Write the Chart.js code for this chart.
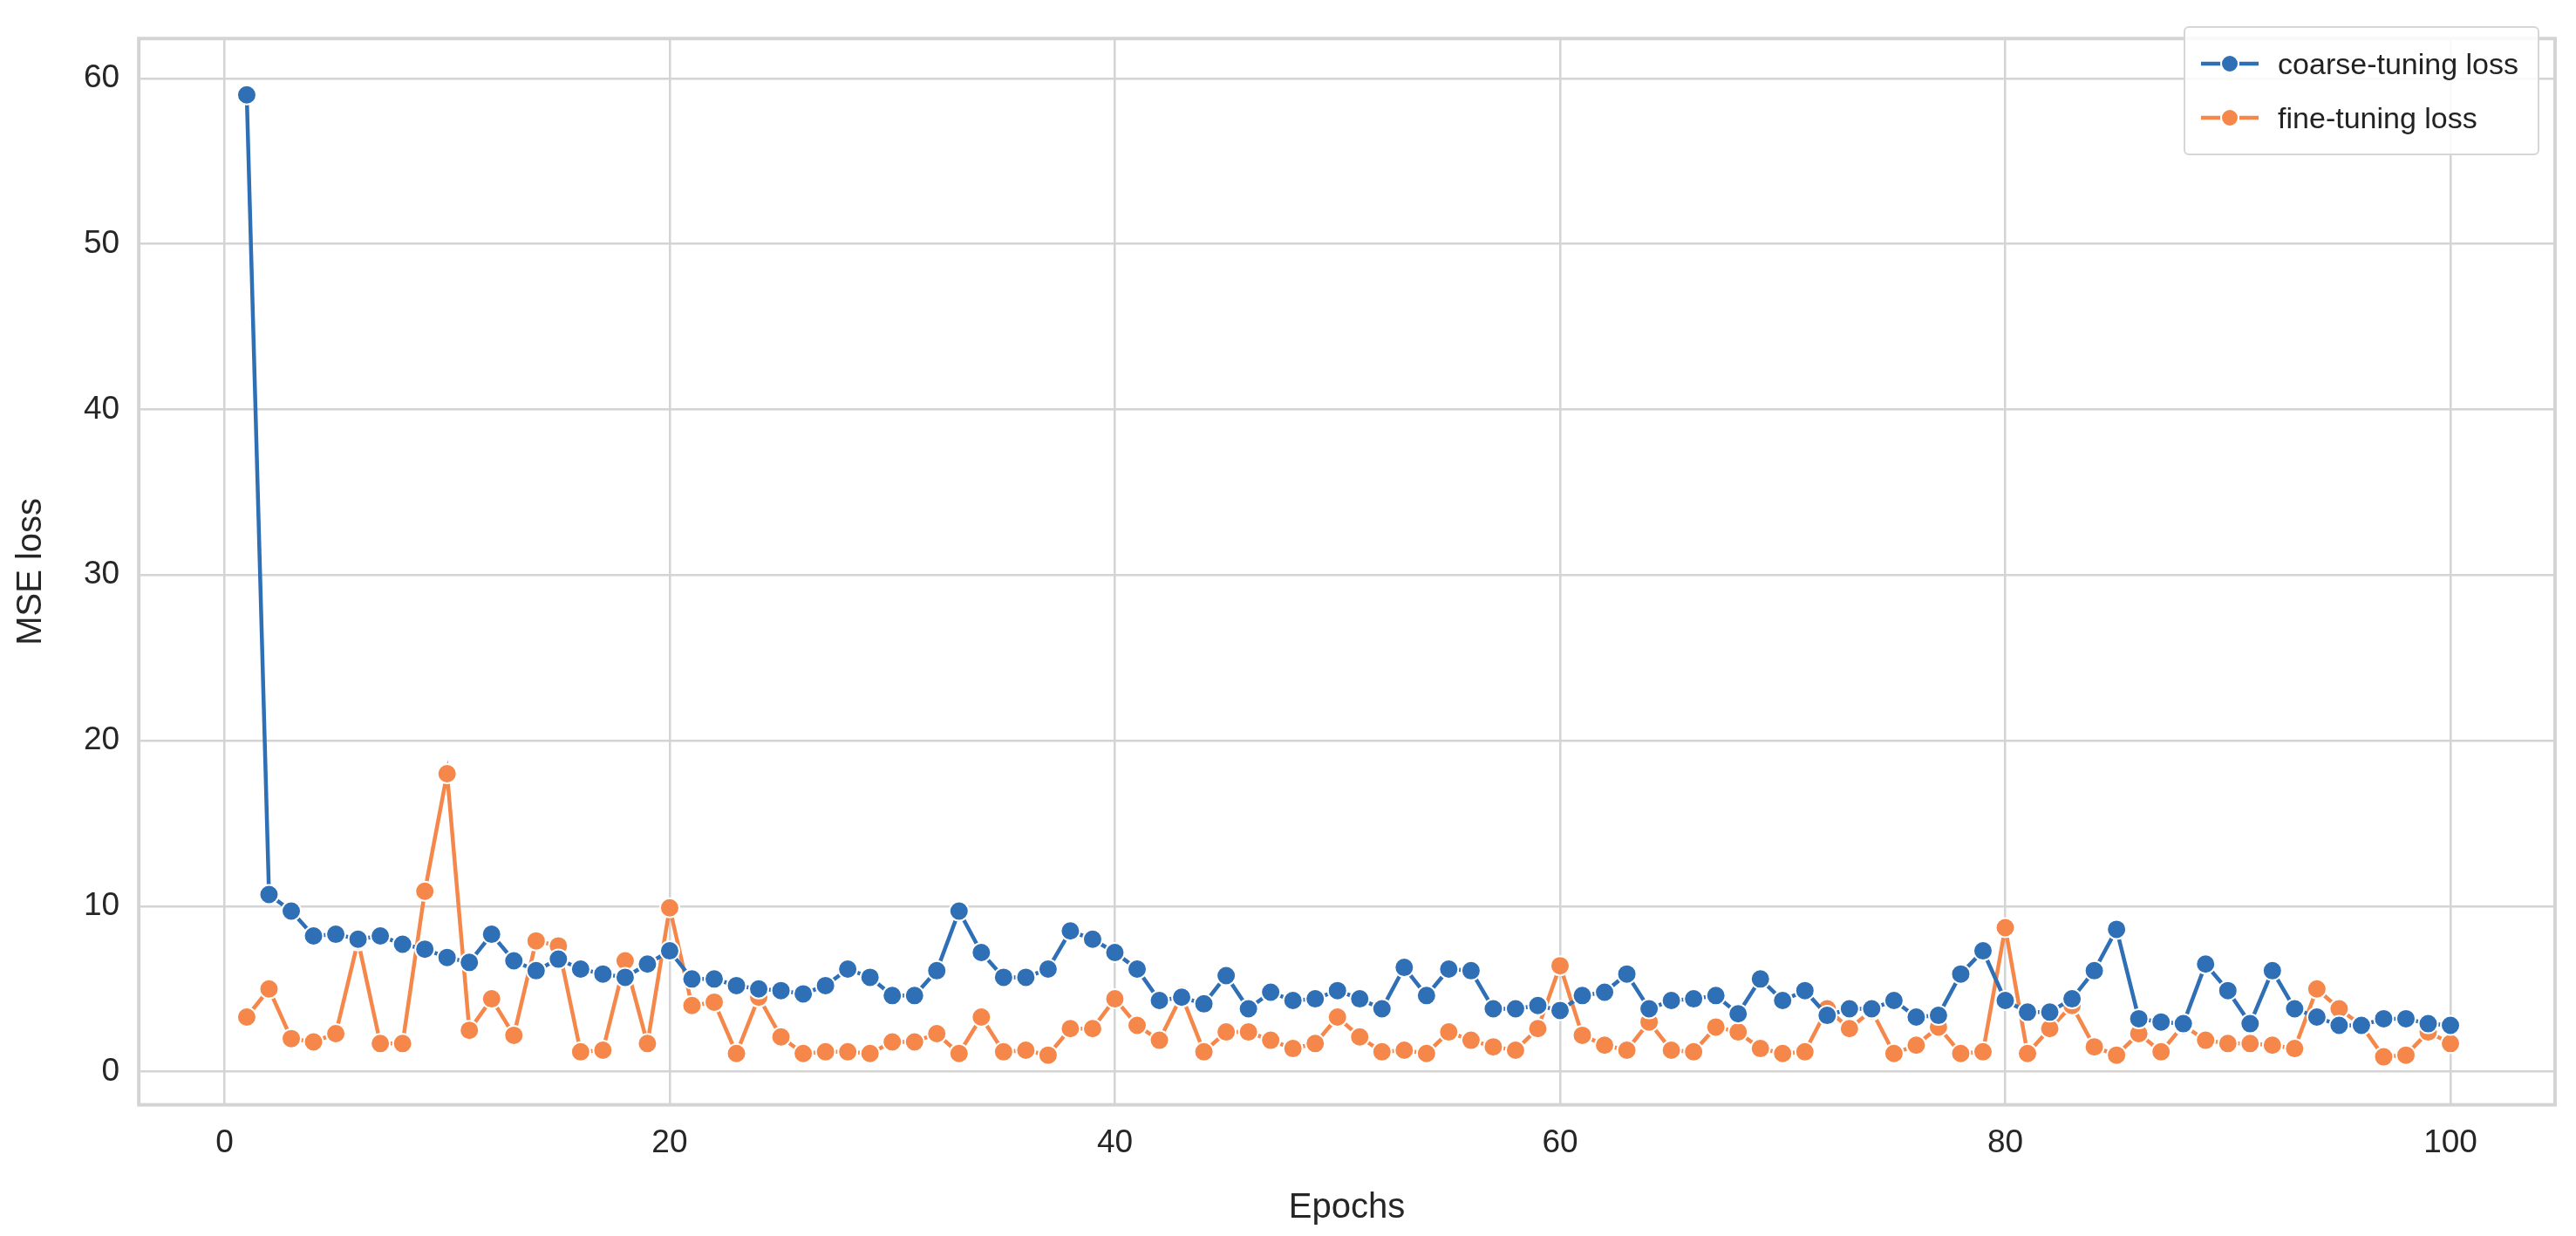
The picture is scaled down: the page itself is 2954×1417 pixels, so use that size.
<html>
<head>
<script src="https://cdn.jsdelivr.net/npm/chart.js@4.4.0/dist/chart.umd.min.js"></script>
<style>
  body { margin: 0; background: #fff; font-family: Arial, "Liberation Sans", sans-serif; }
  #wrap { position: relative; width: 2954px; height: 1417px; }
  #legend { position: absolute; right: 42px; top: 30px; background: rgba(255,255,255,0.85);
            border: 2px solid #d6d6d6; border-radius: 6px; padding: 10px 22px 10px 16px;
            font-size: 34px; color: #222; }
  #legend div { display: flex; align-items: center; height: 62px; }
  #legend svg { margin-right: 20px; }
</style>
</head>
<body>
<div id="wrap">
  <canvas id="loss-chart" width="2954" height="1417"></canvas>
  <div id="legend"></div>
</div>
<script>
const epochs = Array.from({length: 100}, (_, i) => i + 1);
const coarseLoss = [
  59.0, 10.7, 9.7, 8.2, 8.3, 8.0, 8.2, 7.7, 7.4, 6.9,
  6.6, 8.3, 6.7, 6.1, 6.8, 6.2, 5.9, 5.7, 6.5, 7.3,
  5.6, 5.6, 5.2, 5.0, 4.9, 4.7, 5.2, 6.2, 5.7, 4.6,
  4.6, 6.1, 9.7, 7.2, 5.7, 5.7, 6.2, 8.5, 8.0, 7.2,
  6.2, 4.3, 4.5, 4.1, 5.8, 3.8, 4.8, 4.3, 4.4, 4.9,
  4.4, 3.8, 6.3, 4.6, 6.2, 6.1, 3.8, 3.8, 4.0, 3.7,
  4.6, 4.8, 5.9, 3.8, 4.3, 4.4, 4.6, 3.5, 5.6, 4.3,
  4.9, 3.4, 3.8, 3.8, 4.3, 3.3, 3.4, 5.9, 7.3, 4.3,
  3.6, 3.6, 4.4, 6.1, 8.6, 3.2, 3.0, 2.9, 6.5, 4.9,
  2.9, 6.1, 3.8, 3.3, 2.8, 2.8, 3.2, 3.2, 2.9, 2.8
];
const fineLoss = [
  3.3, 5.0, 2.0, 1.8, 2.3, 7.9, 1.7, 1.7, 10.9, 18.0,
  2.5, 4.4, 2.2, 7.9, 7.6, 1.2, 1.3, 6.7, 1.7, 9.9,
  4.0, 4.2, 1.1, 4.5, 2.1, 1.1, 1.2, 1.2, 1.1, 1.8,
  1.8, 2.3, 1.1, 3.3, 1.2, 1.3, 1.0, 2.6, 2.6, 4.4,
  2.8, 1.9, 4.6, 1.2, 2.4, 2.4, 1.9, 1.4, 1.7, 3.3,
  2.1, 1.2, 1.3, 1.1, 2.4, 1.9, 1.5, 1.3, 2.6, 6.4,
  2.2, 1.6, 1.3, 3.0, 1.3, 1.2, 2.7, 2.4, 1.4, 1.1,
  1.2, 3.8, 2.6, 3.7, 1.1, 1.6, 2.7, 1.1, 1.2, 8.7,
  1.1, 2.6, 4.0, 1.5, 1.0, 2.3, 1.2, 2.8, 1.9, 1.7,
  1.7, 1.6, 1.4, 5.0, 3.8, 2.8, 0.9, 1.0, 2.4, 1.7
];
const xTicks = [0, 20, 40, 60, 80, 100];
const yTicks = [0, 10, 20, 30, 40, 50, 60];
const seriesNames = ['coarse-tuning loss', 'fine-tuning loss'];
const seriesColors = ['#2f6fb6', '#f5874a'];

// frame around the whole plot area (seaborn whitegrid style)
const framePlugin = {
  id: 'frame',
  afterDraw(chart) {
    const {ctx, chartArea: a} = chart;
    ctx.save();
    ctx.strokeStyle = '#d4d4d4';
    ctx.lineWidth = 4;
    ctx.strokeRect(a.left, a.top, a.right - a.left, a.bottom - a.top);
    ctx.restore();
  }
};

const tickFont = {family: 'Arial, "Liberation Sans", sans-serif', size: 37};
const titleFont = {family: 'Arial, "Liberation Sans", sans-serif', size: 40};

new Chart(document.getElementById('loss-chart'), {
  type: 'line',
  data: {
    datasets: [coarseLoss, fineLoss].map((vals, i) => ({
      label: seriesNames[i],
      data: epochs.map((e, j) => ({x: e, y: vals[j]})),
      borderColor: seriesColors[i],
      backgroundColor: seriesColors[i],
      borderWidth: 4.5,
      pointRadius: 11,
      pointBorderColor: '#ffffff',
      pointBorderWidth: 2,
      tension: 0
    }))
  },
  options: {
    responsive: false,
    animation: false,
    devicePixelRatio: 1,
    layout: {padding: {left: 8, right: 24, top: 20, bottom: 4}},
    plugins: {legend: {display: false}, tooltip: {enabled: false}},
    scales: {
      x: {
        type: 'linear', min: -3.85, max: 104.7,
        afterBuildTicks: s => { s.ticks = xTicks.map(v => ({value: v})); },
        grid: {color: '#d4d4d4', lineWidth: 2.5, drawTicks: false},
        border: {display: false},
        ticks: {font: tickFont, color: '#262626', padding: 22},
        title: {display: true, text: 'Epochs', font: titleFont, color: '#262626', padding: {top: 6}}
      },
      y: {
        min: -2.0, max: 62.4,
        afterBuildTicks: s => { s.ticks = yTicks.map(v => ({value: v})); },
        grid: {color: '#d4d4d4', lineWidth: 2.5, drawTicks: false},
        border: {display: false},
        ticks: {font: tickFont, color: '#262626', padding: 22},
        title: {display: true, text: 'MSE loss', font: titleFont, color: '#262626', padding: {bottom: 14}}
      }
    }
  },
  plugins: [framePlugin]
});

// legend with line+marker icons
const legend = document.getElementById('legend');
seriesNames.forEach((name, i) => {
  const row = document.createElement('div');
  row.innerHTML = `<svg width="70" height="26"><line x1="2" y1="13" x2="68" y2="13" stroke="${seriesColors[i]}" stroke-width="4.5"/>
    <circle cx="35" cy="13" r="10" fill="${seriesColors[i]}" stroke="#fff" stroke-width="2"/></svg><span>${name}</span>`;
  legend.appendChild(row);
});
</script>
</body>
</html>
